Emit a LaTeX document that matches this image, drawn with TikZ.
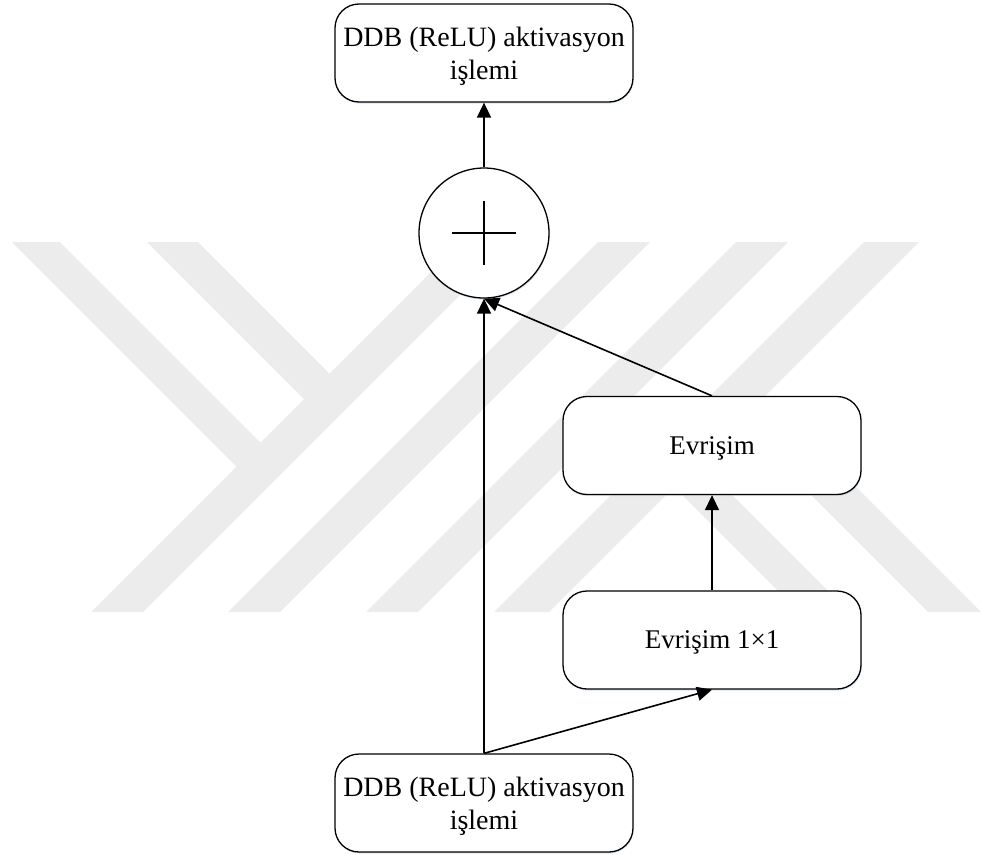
\documentclass[tikz,border=0pt]{standalone}
\usepackage{fontspec}
\setmainfont{Liberation Serif}
\usetikzlibrary{arrows.meta,shadows}
\definecolor{wmgray}{RGB}{236,236,236}
\definecolor{glow}{RGB}{190,212,235}
\begin{document}
\begin{tikzpicture}[x=1pt,y=-1pt,
  softshadow/.style={drop shadow={shadow xshift=0.6pt, shadow yshift=-1.6pt,
    fill=glow, opacity=0.6}},
  blk/.style={draw, line width=1.3pt, rounded corners=24pt, fill=white,
    softshadow, minimum width=298pt, minimum height=98pt, inner sep=0pt,
    align=center, text depth=0pt, font=\fontsize{27}{33}\selectfont},
  bigtext/.style={font=\fontsize{28}{33}\selectfont},
  sumnode/.style={draw, circle, line width=1.3pt, fill=white, softshadow,
    minimum size=130pt, inner sep=0pt},
  link/.style={line width=1.6pt, -{Triangle[length=15pt,width=14pt]}},
  wm/.style={fill=wmgray, draw=none}]
\useasboundingbox (0,0) rectangle (981,854);

% background emblem: diagonal bands
\fill[wm] (91,612) -- (143,612) -- (513,242) -- (461,242) -- cycle;
\fill[wm] (12,242) -- (60,242) -- (274,456) -- (250,480) -- cycle;
\fill[wm] (147,242) -- (198,242) -- (343,387) -- (317.5,412.5) -- cycle;
\fill[wm] (228,612) -- (280,612) -- (650,242) -- (598,242) -- cycle;
\fill[wm] (366,612) -- (418,612) -- (788,242) -- (736,242) -- cycle;
\fill[wm] (494,612) -- (549,612) -- (919,242) -- (864,242) -- cycle;
\fill[wm] (658.5,471.5) -- (683.5,446.5) -- (849,612) -- (799,612) -- cycle;
\fill[wm] (723,407) -- (749.5,380.5) -- (981,612) -- (928,612) -- cycle;

% blocks
\node[blk, bigtext] (top) at (484,53) {DDB (ReLU) aktivasyon\\işlemi};
\node[sumnode] (sum) at (484,233) {};
\draw[line width=1.2pt] (sum.center) ++(-32,0) -- ++(64,0);
\draw[line width=1.2pt] (sum.center) ++(0,-32) -- ++(0,64);
\node[blk] (conv) at (712,445.5) {Evrişim};
\node[blk] (conv1) at (712,640) {Evrişim 1×1};
\node[blk, bigtext] (bot) at (484,803) {DDB (ReLU) aktivasyon\\işlemi};

% connectors
\draw[link] (sum.north) -- (top.south);
\draw[link] (bot.north) -- (sum.south);
\draw[link] (conv.north) -- (sum.south);
\draw[link] (conv1.north) -- (conv.south);
\draw[link] (bot.north) -- (conv1.south);
\end{tikzpicture}
\end{document}
